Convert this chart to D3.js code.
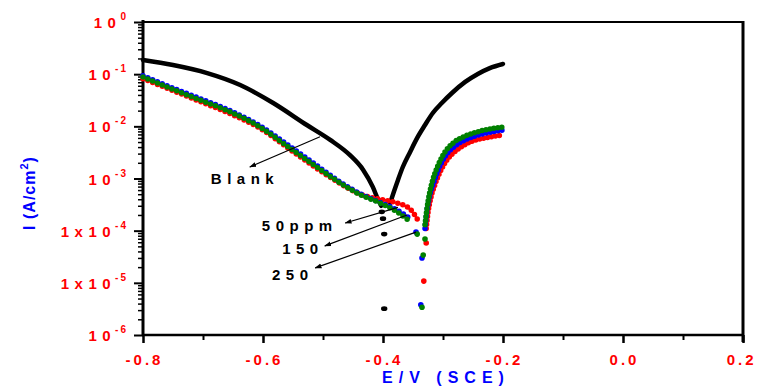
<!DOCTYPE html>
<html lang="en">
<head>
<meta charset="UTF-8">
<title>Tafel plot</title>
<script src="https://cdnjs.cloudflare.com/ajax/libs/d3/7.8.5/d3.min.js"></script>
<style>
  body { margin: 0; background: #fff; }
  svg { display: block; font-family: "Liberation Sans", Arial, sans-serif; font-weight: bold; }
</style>
</head>
<body>
<svg id="chart" width="757" height="392"></svg>
<script>
// values: [E (V vs SCE), I (A/cm2)]
var blankCathodic = [[-0.800, 0.187], [-0.750, 0.150], [-0.693, 0.105], [-0.638, 0.062], [-0.583, 0.028],
    [-0.527, 0.0106], [-0.488, 0.0055], [-0.455, 0.0028], [-0.433, 0.00146], [-0.417, 6.9e-4],
    [-0.408, 3.9e-4], [-0.403, 3.0e-4]];
var blankScatter = [[-0.402, 2.3e-4], [-0.400, 1.7e-4], [-0.398, 8.6e-5], [-0.398, 3.2e-6]];
var blankAnodic = [[-0.388, 3.4e-4], [-0.382, 5.5e-4], [-0.375, 9.4e-4], [-0.367, 1.66e-3], [-0.355, 3.2e-3],
    [-0.343, 6.0e-3], [-0.330, 0.0106], [-0.317, 0.018], [-0.302, 0.028], [-0.285, 0.0436],
    [-0.263, 0.071], [-0.242, 0.101], [-0.222, 0.131], [-0.200, 0.157]];

var ppm50Cathodic = [[-0.800, 0.082], [-0.755, 0.051], [-0.705, 0.030], [-0.655, 0.0175], [-0.605, 0.0092],
    [-0.555, 0.0036], [-0.505, 0.00142], [-0.472, 8.1e-4], [-0.438, 5.0e-4], [-0.405, 4.0e-4],
    [-0.377, 3.4e-4], [-0.355, 2.6e-4], [-0.342, 1.6e-4]];
var ppm50Scatter = [[-0.328, 5.8e-5], [-0.332, 1.08e-5]];
var ppm50Anodic = [[-0.328, 1.1e-4], [-0.325, 2.2e-4], [-0.320, 4.4e-4], [-0.313, 7.9e-4], [-0.305, 1.33e-3],
    [-0.293, 2.3e-3], [-0.277, 3.5e-3], [-0.255, 5.0e-3], [-0.230, 6.0e-3], [-0.200, 6.8e-3]];

var ppm150Cathodic = [[-0.800, 0.093], [-0.755, 0.057], [-0.705, 0.034], [-0.655, 0.020], [-0.605, 0.0102],
    [-0.555, 0.0041], [-0.505, 0.0016], [-0.472, 8.6e-4], [-0.438, 5.1e-4], [-0.405, 3.5e-4],
    [-0.377, 2.5e-4], [-0.358, 1.8e-4]];
var ppm150Scatter = [[-0.345, 9.4e-5], [-0.335, 3.0e-5], [-0.337, 3.8e-6]];
var ppm150Anodic = [[-0.330, 1.1e-4], [-0.327, 2.3e-4], [-0.322, 4.8e-4], [-0.315, 8.6e-4], [-0.308, 1.46e-3],
    [-0.297, 2.6e-3], [-0.280, 4.2e-3], [-0.260, 5.7e-3], [-0.235, 7.1e-3], [-0.200, 8.5e-3]];

var ppm250Cathodic = [[-0.800, 0.088], [-0.755, 0.054], [-0.705, 0.032], [-0.655, 0.019], [-0.605, 0.0097],
    [-0.555, 0.0038], [-0.505, 0.0015], [-0.472, 8.3e-4], [-0.438, 4.9e-4], [-0.405, 3.4e-4],
    [-0.377, 2.3e-4], [-0.355, 1.5e-4]];
var ppm250Scatter = [[-0.343, 8.6e-5], [-0.330, 6.9e-5], [-0.333, 3.4e-5], [-0.335, 3.4e-6]];
var ppm250Anodic = [[-0.330, 1.3e-4], [-0.327, 2.5e-4], [-0.322, 5.5e-4], [-0.317, 9.4e-4], [-0.310, 1.6e-3],
    [-0.300, 2.8e-3], [-0.283, 4.8e-3], [-0.263, 6.5e-3], [-0.238, 8.1e-3], [-0.200, 9.7e-3]];

var xTicks = [-0.8, -0.6, -0.4, -0.2, 0.0, 0.2];
var xTickLabels = ["-0.8", "-0.6", "-0.4", "-0.2", "0.0", "0.2"];
var xMinorTicks = [-0.7, -0.5, -0.3, -0.1, 0.1];
var yTicks = [1, 1e-1, 1e-2, 1e-3, 1e-4, 1e-5, 1e-6];
var yTickBase = ["10", "10", "10", "10", "1x10", "1x10", "10"];
var yTickExp = ["0", "-1", "-2", "-3", "-4", "-5", "-6"];

var noteLabels = ["Blank", "50ppm", "150", "250"];
var noteTextAt = [[-0.687, 7.8e-4], [-0.602, 1.0e-4], [-0.568, 3.5e-5], [-0.585, 1.15e-5]];
var noteFrom = [[-0.505, 6.3e-3], [-0.375, 2.8e-4], [-0.360, 2.0e-4], [-0.345, 9.4e-5]];
var noteTo = [[-0.622, 1.66e-3], [-0.463, 1.4e-4], [-0.497, 5.1e-5], [-0.513, 1.93e-5]];

var svg = d3.select("#chart");
var pL = 143, pR = 743, pT = 22, pB = 335;

var x = d3.scaleLinear().domain([-0.8, 0.2]).range([pL, pR]);
var y = d3.scaleLog().domain([1e-6, 1]).range([pB, pT]);

var line = d3.line()
    .x(function(d) { return x(d[0]); })
    .y(function(d) { return y(d[1]); })
    .curve(d3.curveMonotoneX);

// frame top and right
svg.append("line").attr("x1", pL).attr("x2", pR).attr("y1", pT).attr("y2", pT)
    .attr("stroke", "#000").attr("stroke-width", 2);
svg.append("line").attr("x1", pR).attr("x2", pR).attr("y1", pT - 1).attr("y2", pB + 7)
    .attr("stroke", "#000").attr("stroke-width", 3);

// minor log ticks
var yMinor = [];
for (var k = -6; k < 0; k++) {
    for (var m = 2; m <= 9; m++) yMinor.push(m * Math.pow(10, k));
}

var yMinorAxis = d3.axisLeft(y).tickValues(yMinor).tickSize(5).tickFormat("");
svg.append("g").attr("transform", "translate(" + pL + ",0)").call(yMinorAxis)
    .call(function(g) { g.select(".domain").remove(); })
    .selectAll("line").attr("stroke-width", 1.5);

var yAxis = d3.axisLeft(y).tickValues(yTicks).tickSize(9).tickFormat("");
var gy = svg.append("g").attr("transform", "translate(" + pL + ",0)").call(yAxis);
gy.select(".domain").attr("stroke-width", 3).attr("d", "M0," + (pT - 2) + "V" + (pB + 1));
gy.selectAll(".tick line").attr("stroke-width", 2);
gy.selectAll(".tick").each(function(d, i) {
    var t = d3.select(this).append("text")
        .attr("x", -15).attr("y", 5.5)
        .attr("text-anchor", "end")
        .attr("fill", "#ff0000")
        .attr("font-size", 15);
    t.append("tspan").attr("letter-spacing", 5.5).text(yTickBase[i]);
    t.append("tspan").attr("dx", -1).attr("dy", -8).attr("font-size", 10)
        .attr("letter-spacing", 2).text(yTickExp[i]);
});

var xMinorAxis = d3.axisBottom(x).tickValues(xMinorTicks).tickSize(5).tickFormat("");
svg.append("g").attr("transform", "translate(0," + pB + ")").call(xMinorAxis)
    .call(function(g) { g.select(".domain").remove(); })
    .selectAll("line").attr("stroke-width", 2);

var xAxis = d3.axisBottom(x).tickValues(xTicks).tickSize(8)
    .tickFormat(function(d, i) { return xTickLabels[i]; });
var gx = svg.append("g").attr("transform", "translate(0," + pB + ")").call(xAxis);
gx.select(".domain").attr("stroke-width", 2.5).attr("d", "M" + (pL - 1) + ",0H" + (pR + 1));
gx.selectAll(".tick line").attr("stroke-width", 2.5);
gx.selectAll(".tick text")
    .attr("y", 30).attr("dy", null).attr("dx", 1)
    .attr("fill", "#ff0000")
    .attr("font-size", 15)
    .attr("font-family", "Liberation Sans, Arial, sans-serif")
    .attr("font-weight", "bold")
    .attr("letter-spacing", 3);
// keep the last label inside the picture
gx.selectAll(".tick text").filter(function(d) { return d === 0.2; })
    .attr("text-anchor", "end").attr("dx", 13);

// axis titles
svg.append("text")
    .attr("x", (pL + pR) / 2 + 3).attr("y", 383)
    .attr("text-anchor", "middle")
    .attr("fill", "#0000ff").attr("font-size", 16).attr("letter-spacing", 6)
    .text("E/V (SCE)");

var yt = svg.append("text")
    .attr("transform", "translate(35,193) rotate(-90)")
    .attr("text-anchor", "middle")
    .attr("fill", "#0000ff").attr("font-size", 16).attr("letter-spacing", 1);
yt.append("tspan").text("I (A/cm");
yt.append("tspan").attr("dy", -7).attr("font-size", 11).text("2");
yt.append("tspan").attr("dy", 7).text(")");

// Blank curve
var plot = svg.append("g");
plot.append("path").datum(blankCathodic).attr("d", line)
    .attr("fill", "none").attr("stroke", "#000").attr("stroke-width", 4.5).attr("stroke-linecap", "round");
plot.append("path").datum(blankAnodic).attr("d", line)
    .attr("fill", "none").attr("stroke", "#000").attr("stroke-width", 4.5).attr("stroke-linecap", "round");
plot.selectAll(".blankdot").data(blankScatter).enter().append("ellipse")
    .attr("cx", function(d) { return x(d[0]); })
    .attr("cy", function(d) { return y(d[1]); })
    .attr("rx", 3.2).attr("ry", 2.4).attr("fill", "#000");

// inhibitor curves, drawn as beaded dotted lines
var inhib = [
    { color: "#ff0000", cath: ppm50Cathodic, scat: ppm50Scatter, anod: ppm50Anodic },
    { color: "#0000ff", cath: ppm150Cathodic, scat: ppm150Scatter, anod: ppm150Anodic },
    { color: "#008000", cath: ppm250Cathodic, scat: ppm250Scatter, anod: ppm250Anodic }
];
inhib.forEach(function(s) {
    plot.append("path").datum(s.cath).attr("d", line)
        .attr("fill", "none").attr("stroke", s.color).attr("stroke-width", 5.5)
        .attr("stroke-linecap", "round").attr("stroke-dasharray", "0 5.2");
    plot.append("path").datum(s.anod).attr("d", line)
        .attr("fill", "none").attr("stroke", s.color).attr("stroke-width", 5.5)
        .attr("stroke-linecap", "round").attr("stroke-dasharray", "0 4");
    plot.selectAll(null).data(s.scat).enter().append("circle")
        .attr("cx", function(d) { return x(d[0]); })
        .attr("cy", function(d) { return y(d[1]); })
        .attr("r", 2.8).attr("fill", s.color);
});

// annotations
svg.append("defs").append("marker")
    .attr("id", "head").attr("viewBox", "0 0 10 10")
    .attr("refX", 9).attr("refY", 5)
    .attr("markerWidth", 7).attr("markerHeight", 7)
    .attr("markerUnits", "userSpaceOnUse")
    .attr("orient", "auto")
    .append("path").attr("d", "M0,1.5L10,5L0,8.5Z").attr("fill", "#000");

noteLabels.forEach(function(lab, i) {
    svg.append("line")
        .attr("x1", x(noteFrom[i][0])).attr("y1", y(noteFrom[i][1]))
        .attr("x2", x(noteTo[i][0])).attr("y2", y(noteTo[i][1]))
        .attr("stroke", "#000").attr("stroke-width", 1.2)
        .attr("marker-end", "url(#head)");
    svg.append("text")
        .attr("x", x(noteTextAt[i][0])).attr("y", y(noteTextAt[i][1]))
        .attr("fill", "#000").attr("font-size", 15).attr("letter-spacing", 5.5)
        .text(lab);
});
</script>
</body>
</html>
